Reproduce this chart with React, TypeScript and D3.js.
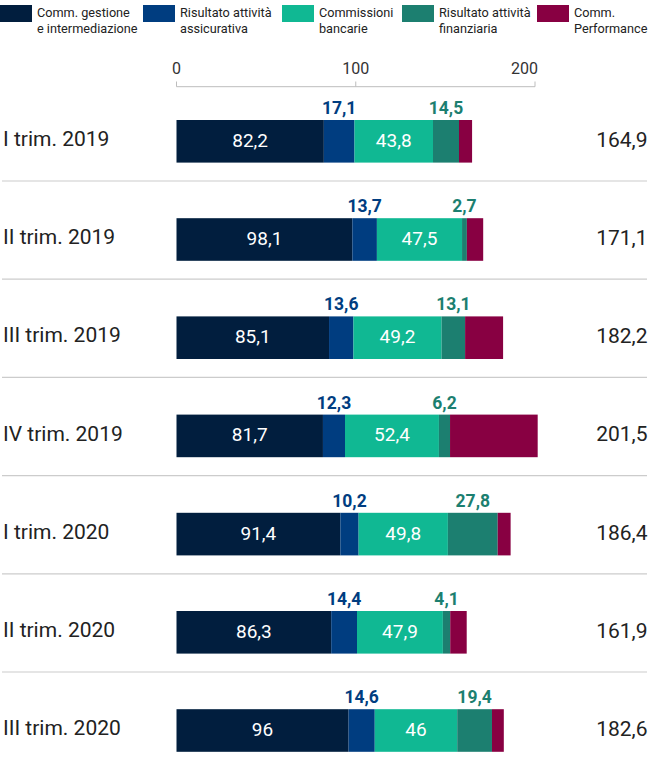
import React from "react";
import * as d3 from "d3";

const categories = [
  "I trim. 2019",
  "II trim. 2019",
  "III trim. 2019",
  "IV trim. 2019",
  "I trim. 2020",
  "II trim. 2020",
  "III trim. 2020",
];
const seriesNames = [
  ["Comm. gestione", "e intermediazione"],
  ["Risultato attività", "assicurativa"],
  ["Commissioni", "bancarie"],
  ["Risultato attività", "finanziaria"],
  ["Comm.", "Performance"],
];
const gestione = [82.2, 98.1, 85.1, 81.7, 91.4, 86.3, 96];
const assicurativa = [17.1, 13.7, 13.6, 12.3, 10.2, 14.4, 14.6];
const bancarie = [43.8, 47.5, 49.2, 52.4, 49.8, 47.9, 46];
const finanziaria = [14.5, 2.7, 13.1, 6.2, 27.8, 4.1, 19.4];
const performance = [7.3, 9.1, 21.2, 48.9, 7.2, 9.2, 6.6];
const totals = [164.9, 171.1, 182.2, 201.5, 186.4, 161.9, 182.6];
const axisTicks = [0, 100, 200];

const colors = ["#011e3e", "#003d80", "#10b893", "#1c7f70", "#880042"];
const keys = ["gestione", "assicurativa", "bancarie", "finanziaria", "performance"];

const fmt = (v: number) => String(v).replace(".", ",");
const FONT = "Roboto, 'Noto Sans', sans-serif";

export default function App() {
  const W = 651;
  const H = 759;
  const rows = categories.map((c, i) => ({
    cat: c,
    gestione: gestione[i],
    assicurativa: assicurativa[i],
    bancarie: bancarie[i],
    finanziaria: finanziaria[i],
    performance: performance[i],
    total: totals[i],
  }));
  const stack = d3.stack<any>().keys(keys)(rows);
  const x = d3.scaleLinear().domain([0, 200]).range([176.5, 535]);
  const y = d3.scaleBand<string>().domain(categories).range([100.4, 787.8]).paddingInner(0);
  const step = y.step();
  const barOff = 19.6;
  const barH = 42.6;

  const legendX = [0, 143, 282, 402, 537];

  return (
    <svg
      width={W}
      height={H}
      style={{ position: "absolute", left: 0, top: 0, background: "#fff" }}
      fontFamily={FONT}
    >
      {/* legend */}
      {seriesNames.map((n, i) => (
        <g key={i} transform={`translate(${legendX[i]},0)`}>
          <rect x={0} y={5} width={32} height={17} fill={colors[i]} />
          <text x={37} y={17} fontSize={12.7} fill="#222">
            {n[0]}
          </text>
          <text x={37} y={33} fontSize={12.7} fill="#222">
            {n[1]}
          </text>
        </g>
      ))}

      {/* axis */}
      <g>
        <line x1={x(0)} x2={x(200)} y1={86.7} y2={86.7} stroke="#bdbdbd" strokeWidth={1} />
        {axisTicks.map((t, i) => (
          <g key={t}>
            <line x1={x(t)} x2={x(t)} y1={81.5} y2={86.7} stroke="#bdbdbd" strokeWidth={1} />
            <text
              x={x(t)}
              y={74}
              fontSize={16}
              fill="#333"
              textAnchor={i === axisTicks.length - 1 ? "end" : "middle"}
              dx={i === axisTicks.length - 1 ? 3 : 0}
            >
              {t}
            </text>
          </g>
        ))}
      </g>

      {/* separators */}
      {categories.slice(0, -1).map((c) => (
        <line
          key={c}
          x1={2}
          x2={647}
          y1={(y(c) as number) + step - 17.6}
          y2={(y(c) as number) + step - 17.6}
          stroke="#cccccc"
          strokeWidth={1.2}
        />
      ))}

      {/* bars */}
      {stack.map((s, si) => (
        <g key={s.key}>
          {s.map((d, i) => {
            const top = (y(categories[i]) as number) + barOff;
            const x0 = x(d[0]);
            const x1 = x(d[1]);
            const val = d[1] - d[0];
            return (
              <g key={i}>
                <rect x={x0} y={top} width={Math.max(0, x1 - x0)} height={barH} fill={colors[si]} />
                {(si === 0 || si === 2) && (
                  <text
                    x={(x0 + x1) / 2}
                    y={top + 26.8}
                    fontSize={19}
                    fill="#fff"
                    textAnchor="middle"
                  >
                    {fmt(+val.toFixed(1))}
                  </text>
                )}
                {(si === 1 || si === 3) && (
                  <text
                    x={(x0 + x1) / 2}
                    y={top - 6}
                    fontSize={17.5}
                    fontWeight={700}
                    fill={colors[si]}
                    textAnchor="middle"
                  >
                    {fmt(+val.toFixed(1))}
                  </text>
                )}
              </g>
            );
          })}
        </g>
      ))}

      {/* row labels & totals */}
      {rows.map((r, i) => {
        const top = (y(r.cat) as number) + barOff;
        return (
          <g key={r.cat}>
            <text x={3} y={top + 26} fontSize={21} fill="#222">
              {r.cat}
            </text>
            <text x={647.5} y={top + 26.7} fontSize={21} fill="#222" textAnchor="end">
              {fmt(r.total)}
            </text>
          </g>
        );
      })}
    </svg>
  );
}
